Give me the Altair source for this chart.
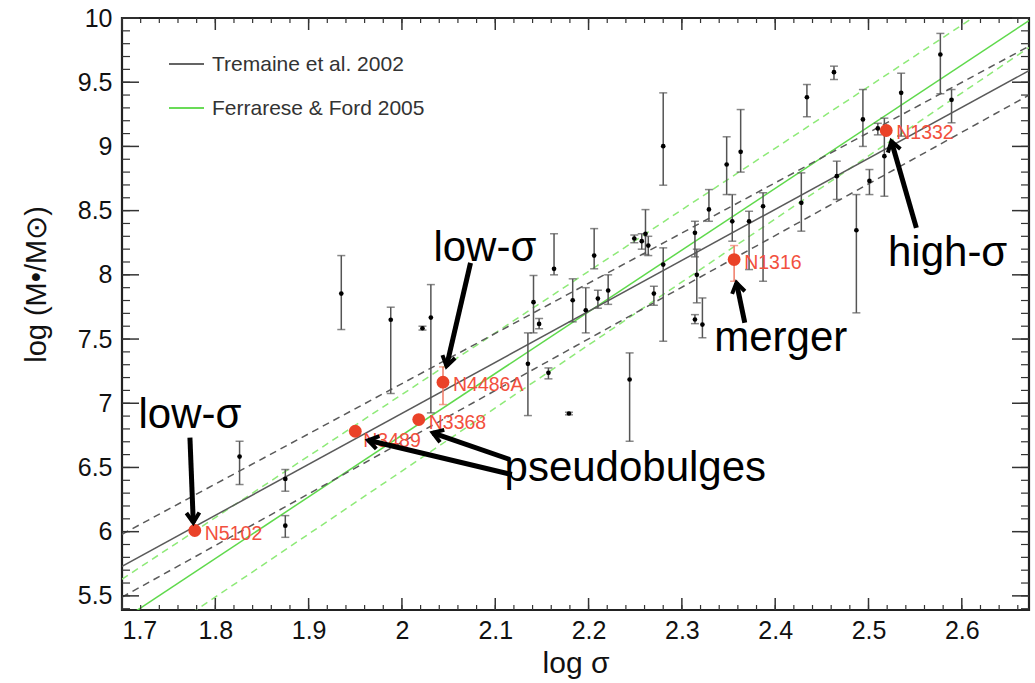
import math
import altair as alt
import pandas as pd

# ---- black hole sample: log sigma, log M, error-bar ends ----
sigma = [1.826, 1.875, 1.875, 1.935, 1.988, 2.022, 2.031, 2.135, 2.141, 2.147,
         2.157, 2.163, 2.179, 2.183, 2.197, 2.206, 2.210, 2.221, 2.244, 2.249,
         2.257, 2.261, 2.264, 2.270, 2.280, 2.280, 2.314, 2.316, 2.314, 2.322,
         2.329, 2.348, 2.354, 2.363, 2.372, 2.387, 2.428, 2.434, 2.463, 2.466,
         2.487, 2.494, 2.501, 2.510, 2.517, 2.535, 2.577, 2.589]
mass = [6.585, 6.411, 6.047, 7.854, 7.650, 7.584, 7.667, 7.307, 7.787, 7.618,
        7.237, 8.047, 6.920, 7.802, 7.724, 8.150, 7.815, 7.878, 7.185, 8.283,
        8.262, 8.319, 8.228, 7.854, 8.080, 9.002, 8.327, 8.000, 7.652, 7.613,
        8.509, 8.859, 8.417, 8.958, 8.417, 8.534, 8.561, 9.383, 9.578, 8.768,
        8.347, 9.210, 8.731, 9.140, 8.924, 9.417, 9.716, 9.363]
mass_lo = [6.367, 6.315, 5.956, 7.574, 7.076, 7.570, 6.925, 6.904, 7.548, 7.580,
           7.190, 8.000, 6.910, 7.634, 7.548, 8.047, 7.740, 7.770, 6.704, 8.250,
           8.200, 8.158, 8.150, 7.763, 7.483, 8.698, 8.140, 7.782, 7.620, 7.510,
           8.417, 8.625, 8.262, 8.800, 8.041, 7.950, 8.340, 9.231, 9.521, 8.587,
           7.704, 9.000, 8.625, 9.090, 8.612, 9.080, 9.410, 9.184]
mass_hi = [6.704, 6.484, 6.125, 8.150, 7.748, 7.600, 7.924, 7.548, 7.995, 7.660,
           7.275, 8.320, 6.930, 7.969, 7.900, 8.360, 7.880, 8.000, 7.392, 8.310,
           8.320, 8.508, 8.300, 7.911, 8.210, 9.417, 8.417, 8.200, 7.690, 7.820,
           8.664, 9.075, 8.625, 9.287, 8.495, 8.639, 8.794, 9.482, 9.625, 8.885,
           8.625, 9.443, 8.820, 9.180, 9.220, 9.570, 9.880, 9.443]

# ---- highlighted galaxies ----
special_name = ["N5102", "N3489", "N3368", "N4486A", "N1316", "N1332"]
special_sigma = [1.778, 1.950, 2.018, 2.044, 2.356, 2.519]
special_mass = [6.009, 6.782, 6.873, 7.164, 8.119, 9.124]
special_lo = [None, None, None, 6.990, 7.950, None]
special_hi = [None, None, None, 7.283, 8.228, None]

# ---- published M-sigma relations, end points over the plotted range ----
fit_sigma = [1.70, 2.672]
tremaine = [5.73, 9.59]
tremaine_hi = [5.98, 9.78]
tremaine_lo = [5.49, 9.40]
ferrarese = [5.31, 9.98]
ferrarese_hi = [5.63, 10.29]
ferrarese_lo = [5.00, 9.77]
legend_labels = ["Tremaine et al. 2002", "Ferrarese & Ford 2005"]

# ---- annotations ----
note_text = ["low-σ", "low-σ", "pseudobulges", "merger", "high-σ"]
note_sigma = [1.7728, 2.0889, 2.2501, 2.406, 2.5848]
note_mass = [6.808, 8.106, 6.398, 7.403, 8.072]
arrow_from_sigma = [1.7728, 2.0735, 2.1178, 2.1156, 2.3674, 2.5513]
arrow_from_mass = [6.733, 8.093, 6.445, 6.562, 7.626, 8.366]
arrow_to_sigma = [1.7764, 2.0478, 1.9638, 2.0330, 2.3585, 2.5245]
arrow_to_mass = [6.070, 7.288, 6.712, 6.770, 7.938, 9.040]

# ---- axes ----
x_major = [1.7, 1.8, 1.9, 2.0, 2.1, 2.2, 2.3, 2.4, 2.5, 2.6]
y_major = [5.5, 6.0, 6.5, 7.0, 7.5, 8.0, 8.5, 9.0, 9.5, 10.0]
x_minor = [round(1.7 + 0.02 * i, 2) for i in range(49)]
y_minor = [round(5.4 + 0.1 * i, 1) for i in range(47)]
X_DOMAIN = [1.7, 2.672]
Y_DOMAIN = [5.39, 10.0]

W, H = 907, 592
FONT = "Liberation Sans"

xs = alt.Scale(domain=X_DOMAIN, nice=False, zero=False)
ys = alt.Scale(domain=Y_DOMAIN, nice=False, zero=False)
x_axis = alt.Axis(values=x_major, format="~g", ticks=False, domain=False, grid=False,
                  labelFont=FONT, labelFontSize=25, labelColor="#111", labelPadding=8,
                  title="log σ", titleFont=FONT, titleFontSize=30, titleFontWeight="normal",
                  titleColor="#111", titleBaseline="alphabetic", titleY=62)
y_axis = alt.Axis(values=y_major, format="~g", ticks=False, domain=False, grid=False,
                  labelFont=FONT, labelFontSize=25, labelColor="#111", labelPadding=10,
                  title="log (M•/M⊙)", titleFont=FONT, titleFontSize=29,
                  titleFontWeight="normal", titleColor="#111", titleAngle=270,
                  titleBaseline="middle", titleAlign="center", titleX=-86, titleY=266)


def X(field):
    return alt.X(field, type="quantitative", scale=xs, axis=x_axis)


def Y(field):
    return alt.Y(field, type="quantitative", scale=ys, axis=y_axis)


pts = pd.DataFrame({"s": sigma, "m": mass, "lo": mass_lo, "hi": mass_hi})
spec = pd.DataFrame({"name": special_name, "s": special_sigma, "m": special_mass,
                     "lo": special_lo, "hi": special_hi})
spec_bars = spec.dropna()

layers = []

# fitted relations
def fit_line(vals, color, dash=None, width=1.5):
    df = pd.DataFrame({"s": fit_sigma, "m": vals})
    kw = dict(color=color, strokeWidth=width, clip=True)
    if dash:
        kw["strokeDash"] = dash
    return alt.Chart(df).mark_line(**kw).encode(x=X("s"), y=Y("m"))

GRAY = "#5a5a5a"
GREEN = "#5fd94c"
GREEN_D = "#8eea78"
layers += [
    fit_line(ferrarese_hi, GREEN_D, [7, 5]),
    fit_line(ferrarese_lo, GREEN_D, [7, 5]),
    fit_line(ferrarese, GREEN),
    fit_line(tremaine_hi, GRAY, [7, 5]),
    fit_line(tremaine_lo, GRAY, [7, 5]),
    fit_line(tremaine, GRAY),
]

# error bars and caps for the sample
layers.append(alt.Chart(pts).mark_rule(color="#555", strokeWidth=1.5).encode(
    x=X("s"), y=Y("lo"), y2="hi"))
for end in ["lo", "hi"]:
    layers.append(alt.Chart(pts).mark_tick(color="#555", orient="horizontal",
                                           size=8, thickness=1.5).encode(x=X("s"), y=Y(end)))
layers.append(alt.Chart(pts).mark_circle(color="#000", size=22, opacity=1).encode(
    x=X("s"), y=Y("m")))

# highlighted galaxies
RED = "#ea4228"
layers.append(alt.Chart(spec_bars).mark_rule(color="#f07a66", strokeWidth=1.5).encode(
    x=X("s"), y=Y("lo"), y2="hi"))
for end in ["lo", "hi"]:
    layers.append(alt.Chart(spec_bars).mark_tick(color="#f07a66", orient="horizontal",
                                                 size=8, thickness=1.5).encode(x=X("s"), y=Y(end)))
layers.append(alt.Chart(spec).mark_circle(color=RED, size=165, opacity=1).encode(
    x=X("s"), y=Y("m")))
layers.append(alt.Chart(spec).transform_filter(alt.datum.name != "N3489").mark_text(
    align="left", baseline="middle", dx=10, dy=3, font=FONT, fontSize=19.5,
    color="#f2503e").encode(x=X("s"), y=Y("m"), text="name:N"))
layers.append(alt.Chart(spec).transform_filter(alt.datum.name == "N3489").mark_text(
    align="left", baseline="middle", dx=8, dy=10, font=FONT, fontSize=19.5,
    color="#f2503e").encode(x=X("s"), y=Y("m"), text="name:N"))

# axis ticks on all four sides, pointing inward
def ticks(values, axis, length, width):
    df = pd.DataFrame({"v": values})
    base = alt.Chart(df).mark_rule(color="#333", strokeWidth=width)
    if axis == "x":
        return [base.encode(x=X("v"), y=alt.value(H), y2=alt.value(H - length)),
                base.encode(x=X("v"), y=alt.value(0), y2=alt.value(length))]
    return [base.encode(y=Y("v"), x=alt.value(0), x2=alt.value(length)),
            base.encode(y=Y("v"), x=alt.value(W), x2=alt.value(W - length))]

layers += ticks(x_minor, "x", 5, 1.2)
layers += ticks(x_major, "x", 12, 1.5)
layers += ticks(y_minor, "y", 8, 1.2)
layers += ticks(y_major, "y", 17, 1.5)

# legend
leg = alt.Chart(pd.DataFrame({"t": legend_labels}))
layers += [
    leg.mark_rule(color=GRAY, strokeWidth=1.5).encode(x=alt.value(47), x2=alt.value(82), y=alt.value(46)),
    leg.mark_rule(color=GREEN, strokeWidth=1.5).encode(x=alt.value(47), x2=alt.value(82), y=alt.value(90)),
    leg.transform_filter(alt.datum.t == legend_labels[0]).mark_text(
        align="left", baseline="middle", font=FONT, fontSize=21, color="#333").encode(
        x=alt.value(90), y=alt.value(47), text="t:N"),
    leg.transform_filter(alt.datum.t == legend_labels[1]).mark_text(
        align="left", baseline="middle", font=FONT, fontSize=21, color="#333").encode(
        x=alt.value(90), y=alt.value(91), text="t:N"),
]

# annotation text and arrows
notes = pd.DataFrame({"t": note_text, "s": note_sigma, "m": note_mass})
layers.append(alt.Chart(notes).mark_text(align="center", baseline="alphabetic", font=FONT,
                                         fontSize=42, color="#000").encode(
    x=X("s"), y=Y("m"), text="t:N"))

px_x = W / (X_DOMAIN[1] - X_DOMAIN[0])
px_y = H / (Y_DOMAIN[1] - Y_DOMAIN[0])
head_angle = []
for s0, m0, s1, m1 in zip(arrow_from_sigma, arrow_from_mass, arrow_to_sigma, arrow_to_mass):
    dx = (s1 - s0) * px_x
    dy = -(m1 - m0) * px_y
    head_angle.append(math.degrees(math.atan2(dx, -dy)) % 360)
arrows = pd.DataFrame({"s0": arrow_from_sigma, "m0": arrow_from_mass,
                       "s1": arrow_to_sigma, "m1": arrow_to_mass, "ang": head_angle})
layers.append(alt.Chart(arrows).mark_rule(color="#000", strokeWidth=5).encode(
    x=X("s0"), y=Y("m0"), x2="s1", y2="m1"))
layers.append(alt.Chart(arrows).mark_point(
    shape="M -0.62 0.95 L 0 0 L 0.62 0.95", filled=False, color="#000",
    strokeWidth=4, size=440, opacity=1, strokeJoin="miter").encode(
    x=X("s1"), y=Y("m1"), angle=alt.Angle("ang:Q", scale=None)))

chart = alt.layer(*layers).properties(
    width=W, height=H,
    padding={"left": 122, "top": 18, "right": 6, "bottom": 73},
    autosize=alt.AutoSizeParams(type="none"),
    background="white",
).configure_view(stroke="#222", strokeWidth=2.2)

chart.save("out.html", embed_options={"renderer": "svg", "actions": False})
